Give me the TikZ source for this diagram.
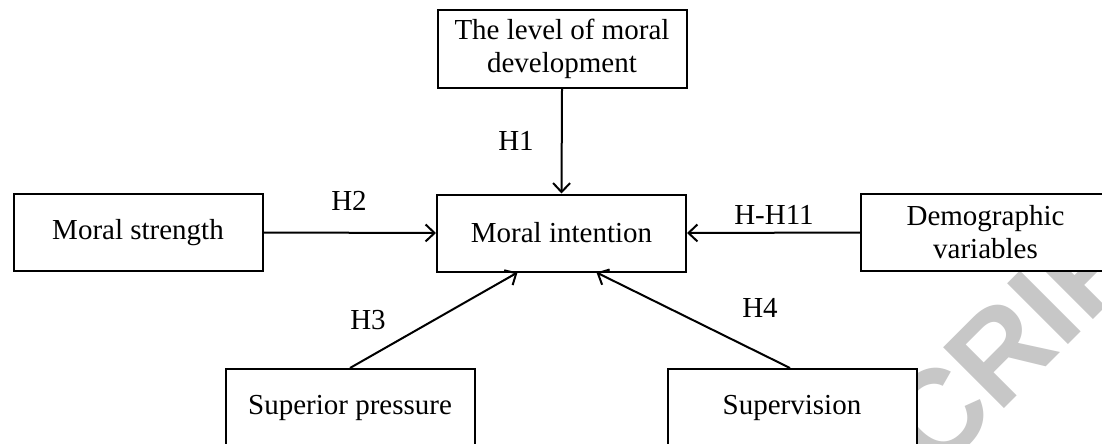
\documentclass[tikz,border=0pt]{standalone}
\usepackage{fontspec}
\setmainfont{Liberation Serif}
\newfontfamily\wmfont{Liberation Sans}
\usetikzlibrary{arrows.meta}
\begin{document}
\begin{tikzpicture}[x=1pt,y=-1pt,
  box/.style={draw, line width=2pt, fill=white, minimum width=249pt, minimum height=77pt, inner sep=0pt, align=center, font=\fontsize{29}{33}\selectfont},
  arr/.style={line width=2pt, -{Straight Barb[length=9pt,width=17pt,line width=2pt]}},
  lab/.style={font=\fontsize{29}{33}\selectfont},
  wm/.style={text=black!22, font=\wmfont\bfseries\fontsize{125}{125}\selectfont}]
\useasboundingbox (0,0) rectangle (1102,444);
\clip (0,0) rectangle (1102,444);
\fill[white] (0,0) rectangle (1102,444);
\node[wm, rotate=45, anchor=base west, inner sep=0pt] (mark) at (935,478) {CRIP};
\node[box, minimum height=78pt] (top) at (562,49) {The level of moral\\development};
\node[box] (ms) at (138,232.5) {Moral strength};
\node[box] (mi) at (561.5,233) {Moral intention};
\node[box] (demo) at (985.5,232.5) {Demographic\\variables};
\node[box] (sp) at (350,407.5) {Superior pressure};
\node[box] (sv) at (792,407.5) {Supervision};
\draw[arr] (top.south) -- (mi.north);
\draw[arr] (ms.east) -- (mi.west);
\draw[arr] (demo.west) -- (mi.east);
\draw[arr] (sp.north) -- ([xshift=-44pt]mi.south);
\draw[arr] ([xshift=-2pt]sv.north) -- ([xshift=35pt]mi.south);
\node[lab] (h1) at (516,141) {H1};
\node[lab] (h2) at (349,201) {H2};
\node[lab] (h11) at (774,215) {H-H11};
\node[lab] (h3) at (368,320) {H3};
\node[lab] (h4) at (760,308) {H4};
\end{tikzpicture}
\end{document}
